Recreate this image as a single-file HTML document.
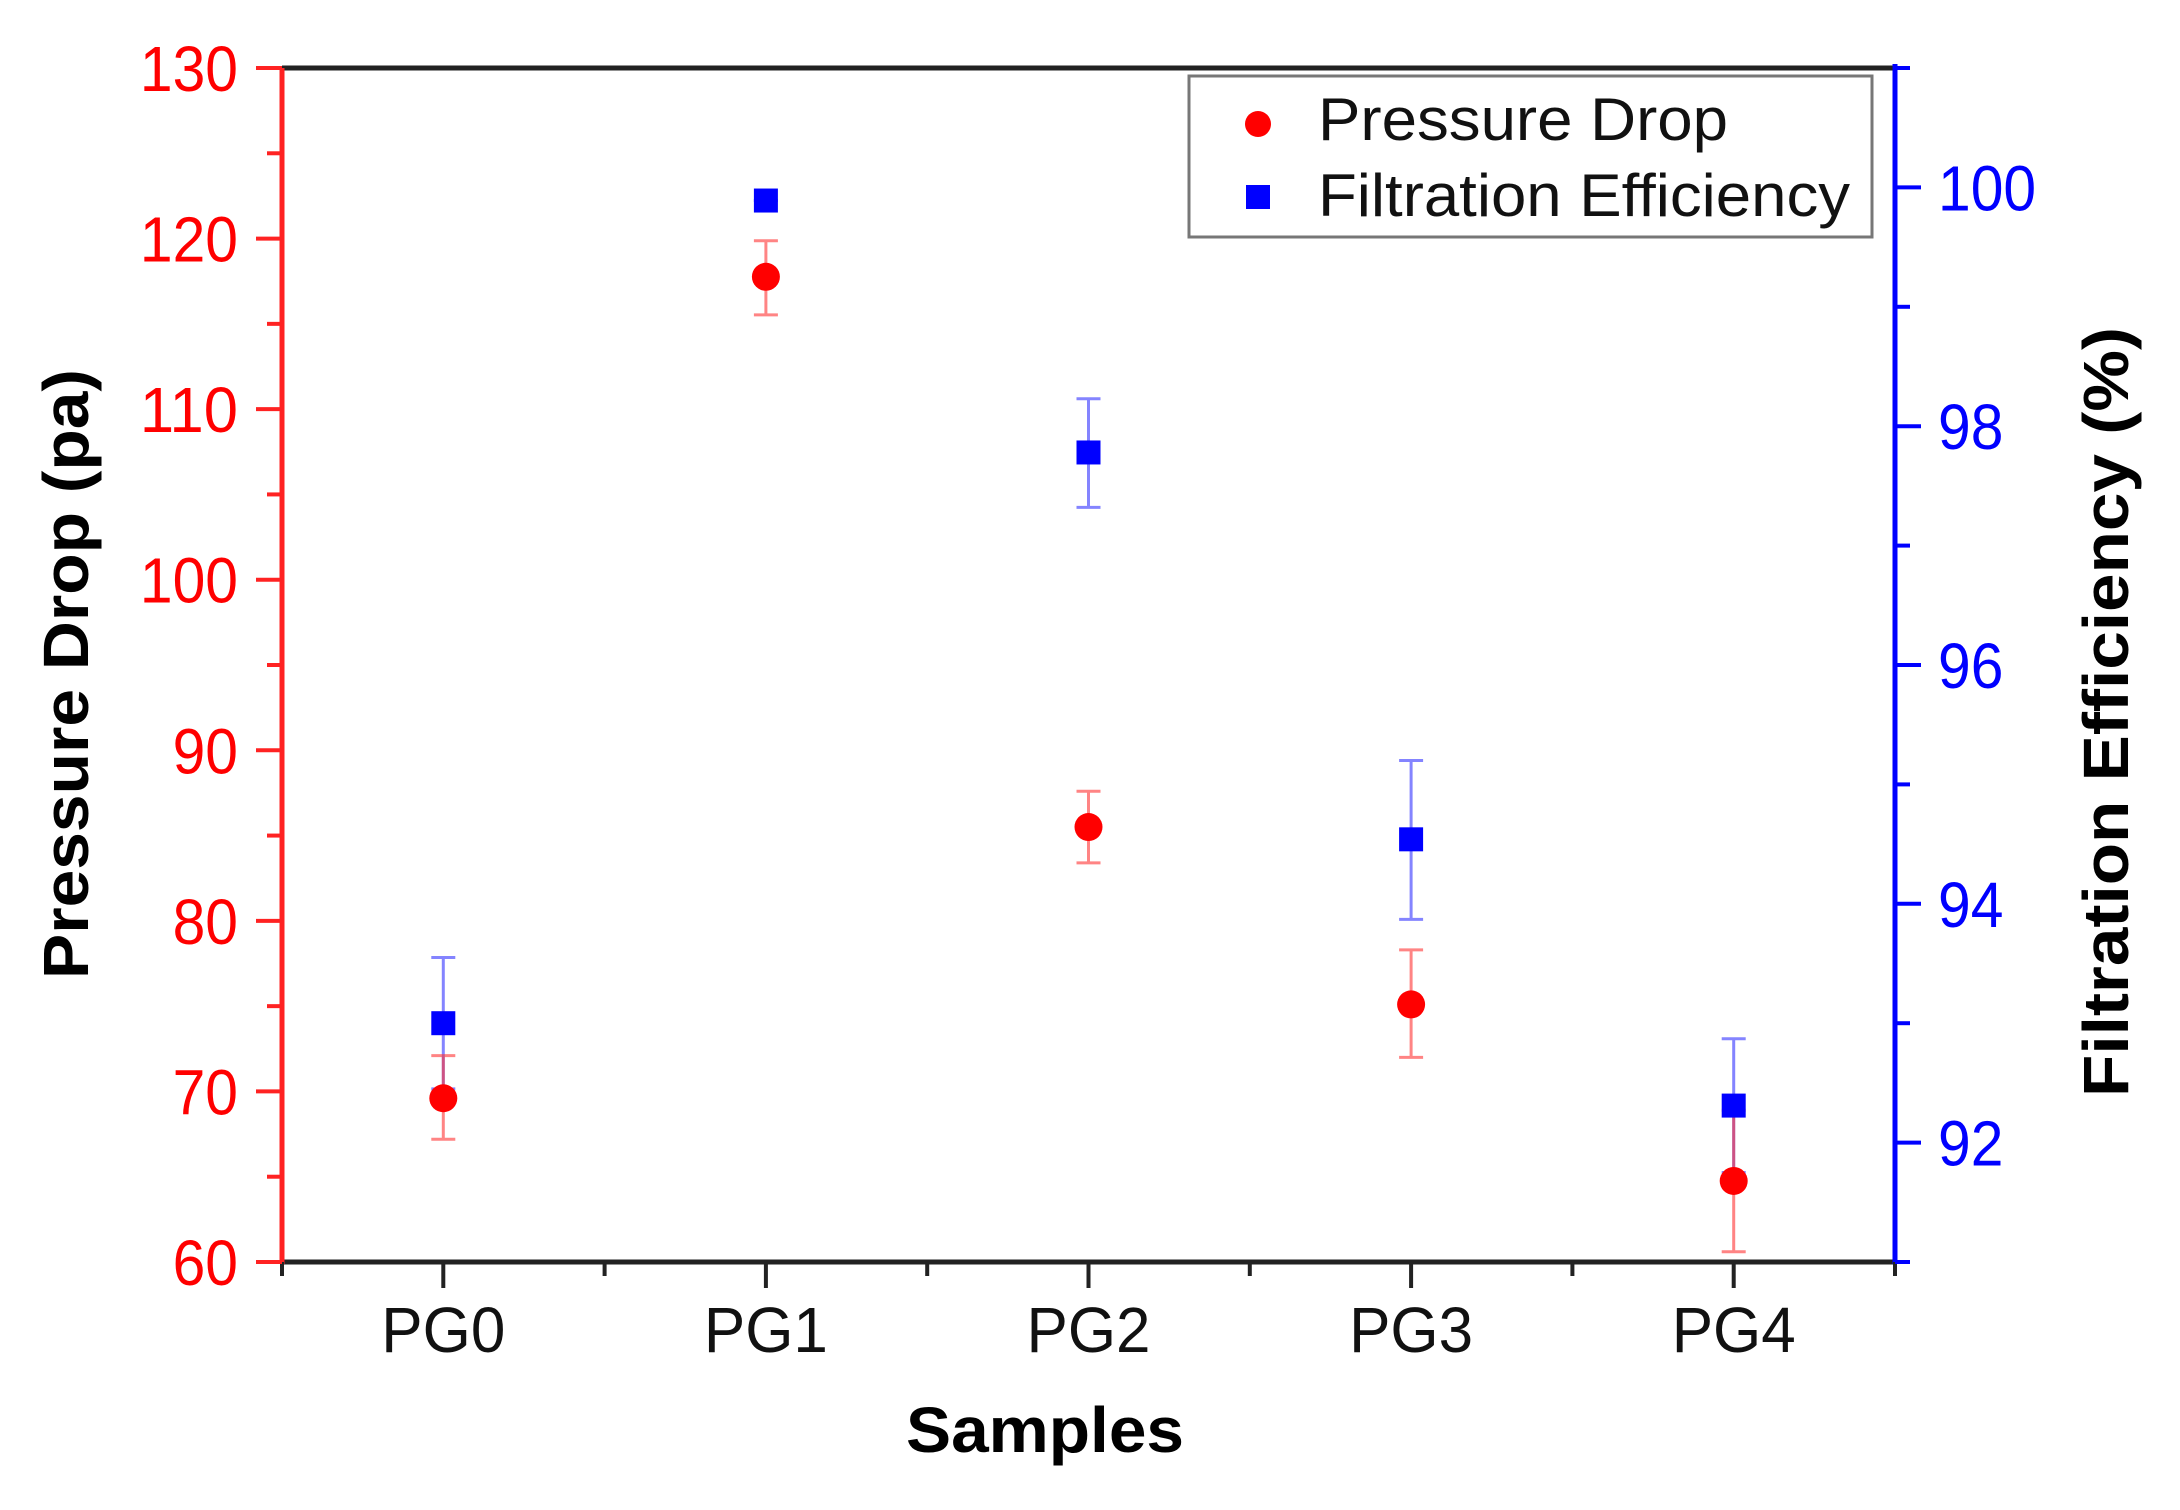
<!DOCTYPE html>
<html><head><meta charset="utf-8"><style>
html,body{margin:0;padding:0;background:#fff;}
svg{display:block;font-family:"Liberation Sans",Arial,sans-serif;}
</style></head><body>
<svg id="chart" width="2180" height="1510" viewBox="0 0 2180 1510" xmlns="http://www.w3.org/2000/svg">
<rect width="2180" height="1510" fill="#fff"/>
<g id="axes"></g>
<g id="marks"></g>
<g>
  <rect x="1189" y="76" width="683" height="161" fill="#fff" stroke="#777" stroke-width="3"/>
  <circle cx="1258" cy="124" r="13" fill="#f00"/>
  <text x="1318" y="140" font-size="60" textLength="410" lengthAdjust="spacingAndGlyphs" fill="#111">Pressure Drop</text>
  <rect x="1246" y="185" width="24" height="24" fill="#00f"/>
  <text x="1318" y="216" font-size="60" textLength="532" lengthAdjust="spacingAndGlyphs" fill="#111">Filtration Efficiency</text>
</g>
<text x="0" y="0" transform="translate(88,674) rotate(-90)" text-anchor="middle" font-size="64" font-weight="bold" textLength="610" lengthAdjust="spacingAndGlyphs" fill="#000">Pressure Drop (pa)</text>
<text x="0" y="0" transform="translate(2128,712) rotate(-90)" text-anchor="middle" font-size="64" font-weight="bold" textLength="770" lengthAdjust="spacingAndGlyphs" fill="#000">Filtration Efficiency (%)</text>
<text x="1045" y="1452" text-anchor="middle" font-size="64" font-weight="bold" textLength="278" lengthAdjust="spacingAndGlyphs" fill="#000">Samples</text>
</svg>
<script>
const categories = ["PG0","PG1","PG2","PG3","PG4"];
const pressure = [69.6, 117.76, 85.5, 75.1, 64.75];
const pressureLo = [67.2, 115.53, 83.4, 72.0, 60.6];
const pressureHi = [72.1, 119.87, 87.6, 78.3, 68.9];
const efficiency = [93.0, 99.89, 97.78, 94.54, 92.31];
const efficiencyLo = [92.45, 99.89, 97.32, 93.87, 91.75];
const efficiencyHi = [93.55, 99.89, 98.23, 95.2, 92.87];
const leftTicks = [60,70,80,90,100,110,120,130];
const rightTicks = [92,94,96,98,100];

const NS = "http://www.w3.org/2000/svg";
const X0 = 282, X1 = 1895, Y0 = 1262, Y1 = 68;
const xs = i => X0 + (i + 0.5) * (X1 - X0) / categories.length;
const yL = v => Y0 - (v - 60) / 70 * (Y0 - Y1);
const yR = v => Y0 - (v - 91) / 10 * (Y0 - Y1);
function mk(tag, attrs, parent){const e=document.createElementNS(NS,tag);for(const k in attrs)e.setAttribute(k,attrs[k]);parent.appendChild(e);return e;}
const axes = document.getElementById('axes'), marks = document.getElementById('marks');

// frame
let e;
e = mk('line',{x1:X0,y1:Y1,x2:X1,y2:Y1,stroke:'#222','stroke-width':5},axes);


e = mk('line',{x1:X0,y1:Y0,x2:X1,y2:Y0,stroke:'#222','stroke-width':5},axes);


e = mk('line',{x1:X0,y1:Y1,x2:X0,y2:Y0+2,stroke:'#f22','stroke-width':5},axes);


e = mk('line',{x1:X1,y1:Y1-4,x2:X1,y2:Y0+2,stroke:'#00f','stroke-width':5},axes);



// x ticks
for (let k = 0; k <= categories.length * 2; k++) {
  const x = X0 + k * (X1 - X0) / (categories.length * 2);
  const major = k % 2 === 1;
  e = mk('line',{x1:x,y1:Y0,x2:x,y2:Y0+(major?26:14),stroke:'#222','stroke-width':4},axes);
  
  
}
categories.forEach((c,i)=>{
  e = mk('text',{x:xs(i),y:1352,'text-anchor':'middle','font-size':64,fill:'#111',textLength:124,lengthAdjust:'spacingAndGlyphs'},axes);
  e.textContent = c;
  
  
});
// left ticks
leftTicks.forEach(v=>{
  const y = yL(v);
  e = mk('line',{x1:X0-26,y1:y,x2:X0,y2:y,stroke:'#f22','stroke-width':4},axes);
  
  
  if (v < 130) {
    const ym = yL(v + 5);
    e = mk('line',{x1:X0-15,y1:ym,x2:X0,y2:ym,stroke:'#f22','stroke-width':4},axes);
    
    
  }
  const s = String(v);
  e = mk('text',{x:238,y:y+23,'text-anchor':'end','font-size':64,fill:'#f00',textLength:s.length*32.7,lengthAdjust:'spacingAndGlyphs'},axes);
  e.textContent = s;
  
  
});
// right ticks
for (let v = 91; v <= 101; v++) {
  const y = yR(v);
  const major = v % 2 === 0;
  e = mk('line',{x1:X1,y1:y,x2:X1+(major?26:15),y2:y,stroke:'#00f','stroke-width':4},axes);
  
  
}
rightTicks.forEach(v=>{
  const y = yR(v);
  const s = String(v);
  e = mk('text',{x:1938,y:y+23,'font-size':64,fill:'#00f',textLength:s.length*32.7,lengthAdjust:'spacingAndGlyphs'},axes);
  e.textContent = s;
  
  
});

// error bars + markers
function errbar(x, ylo, yhi, color, name){
  const g = mk('g',{stroke:color,'stroke-width':3,opacity:0.6},marks);
  
  
  mk('line',{x1:x,y1:ylo,x2:x,y2:yhi},g);
  mk('line',{x1:x-12,y1:ylo,x2:x+12,y2:ylo},g);
  mk('line',{x1:x-12,y1:yhi,x2:x+12,y2:yhi},g);
}
categories.forEach((c,i)=>{
  const x = xs(i);
  errbar(x, yR(efficiencyLo[i]), yR(efficiencyHi[i]), '#33f', 'efficiency-error-bar');
  errbar(x, yL(pressureLo[i]), yL(pressureHi[i]), '#f33', 'pressure-error-bar');
});
categories.forEach((c,i)=>{
  const x = xs(i);
  e = mk('rect',{x:x-12,y:yR(efficiency[i])-12,width:24,height:24,fill:'#00f'},marks);
  
  
  e = mk('ellipse',{cx:x,cy:yL(pressure[i]),rx:14,ry:14,fill:'#f00'},marks);
  
  
});
</script>
</body></html>
